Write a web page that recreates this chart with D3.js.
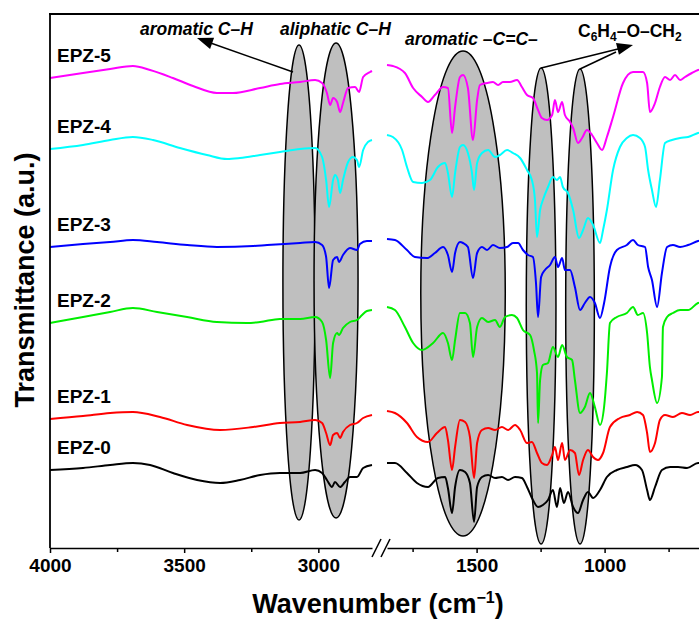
<!DOCTYPE html>
<html>
<head>
<meta charset="utf-8">
<script src="https://cdn.jsdelivr.net/npm/d3@7"></script>
<style>
  html, body { margin: 0; padding: 0; background: #fff; overflow: hidden; }
  svg { display: block; font-family: "Liberation Sans", Arial, sans-serif; }
</style>
</head>
<body>
<svg id="chart" width="699" height="621"></svg>
<script>
// ---- data (wavenumber, transmittance a.u.) ----
var seriesNames = ["EPZ-0", "EPZ-1", "EPZ-2", "EPZ-3", "EPZ-4", "EPZ-5"]
var seriesColors = ["#000000", "#ff0000", "#00ee00", "#0000ff", "#00ffff", "#ff00ff"]

var epz0 = [[4000,78],[3877,80],[3776,83],[3691,85],[3627,83],[3542,75],[3452,68],[3366,65],[3292,68],[3217,73],[3143,75],[3068,75],[3012,78],[2986,75],[2968,68],[2949,61],[2938,66],[2919,61],[2901,66],[2882,71],[2856,71],[2833,80],[2800,83],
  [1850,85],[1819,85],[1772,75],[1733,65],[1690,61],[1651,70],[1623,71],[1612,60],[1596,35],[1584,61],[1565,78],[1545,76],[1526,65],[1510,26],[1498,61],[1479,71],[1455,73],[1428,70],[1401,71],[1377,68],[1350,71],[1323,70],[1303,61],[1280,48],[1260,41],[1241,43],[1221,48],[1202,58],[1186,41],[1174,60],[1159,45],[1143,56],[1123,41],[1104,35],[1084,48],[1065,56],[1045,50],[1018,58],[991,71],[952,78],[913,81],[881,83],[854,78],[834,58],[823,48],[803,61],[776,78],[744,81],[713,81],[678,80],[635,85],[620,85]]

var epz1 = [[4000,129],[3877,132],[3776,135],[3691,136],[3590,131],[3489,123],[3366,118],[3243,121],[3143,125],[3068,126],[3012,128],[2986,125],[2971,115],[2956,103],[2945,113],[2930,115],[2919,110],[2908,116],[2882,123],[2856,125],[2833,130],[2800,133],
  [1850,137],[1819,135],[1772,125],[1733,111],[1690,106],[1655,115],[1623,121],[1612,108],[1596,78],[1584,101],[1565,128],[1545,126],[1526,111],[1510,70],[1498,105],[1479,118],[1455,120],[1428,118],[1401,121],[1377,118],[1350,123],[1330,118],[1303,105],[1284,106],[1264,95],[1245,85],[1225,83],[1205,93],[1194,101],[1182,88],[1166,105],[1155,88],[1135,98],[1116,95],[1100,73],[1084,88],[1065,98],[1045,91],[1026,88],[1006,95],[979,121],[940,130],[901,133],[873,136],[850,133],[834,115],[823,96],[803,105],[784,128],[764,133],[733,131],[698,135],[666,133],[635,136],[620,136]]

var epz2 = [[4000,225],[3877,231],[3776,236],[3691,240],[3601,236],[3489,231],[3378,226],[3266,225],[3217,226],[3143,229],[3068,229],[3012,231],[2986,226],[2971,208],[2956,170],[2945,205],[2930,215],[2923,213],[2908,220],[2882,226],[2856,228],[2837,233],[2819,237],[2800,238],
  [1850,241],[1819,238],[1780,221],[1748,205],[1713,198],[1670,205],[1631,215],[1612,205],[1596,188],[1584,208],[1565,235],[1545,235],[1526,225],[1514,191],[1498,221],[1479,230],[1455,226],[1428,228],[1409,221],[1389,231],[1362,233],[1342,230],[1319,218],[1291,213],[1276,198],[1264,175],[1260,125],[1252,168],[1241,183],[1221,185],[1202,201],[1182,191],[1166,203],[1147,191],[1127,188],[1116,168],[1096,135],[1077,141],[1057,155],[1038,141],[1018,123],[1002,141],[991,175],[979,225],[952,231],[913,235],[889,241],[870,233],[850,235],[834,215],[823,181],[815,168],[795,145],[776,171],[772,221],[756,231],[733,235],[705,238],[674,238],[635,245],[620,246]]

var epz3 = [[4000,301],[3877,304],[3776,306],[3691,308],[3601,306],[3489,303],[3378,301],[3243,302],[3191,303],[3068,305],[3012,306],[2986,303],[2971,291],[2960,260],[2945,288],[2930,291],[2923,286],[2908,293],[2882,300],[2856,298],[2845,304],[2819,307],[2800,307],
  [1850,309],[1819,308],[1772,298],[1741,291],[1694,290],[1663,295],[1631,301],[1612,293],[1596,276],[1584,295],[1565,306],[1553,305],[1534,301],[1514,270],[1498,295],[1479,301],[1459,298],[1436,303],[1409,300],[1381,301],[1358,305],[1338,305],[1319,298],[1299,293],[1280,291],[1268,265],[1260,231],[1248,271],[1233,278],[1213,283],[1194,291],[1182,281],[1166,290],[1155,278],[1135,278],[1116,261],[1096,238],[1077,245],[1057,251],[1038,245],[1018,230],[1002,245],[979,281],[952,298],[913,303],[889,308],[870,303],[842,301],[830,281],[815,268],[795,241],[776,275],[756,301],[733,303],[705,301],[674,303],[635,307],[620,308]]

var epz4 = [[4000,399],[3877,403],[3776,408],[3691,411],[3616,408],[3516,400],[3415,393],[3340,389],[3292,390],[3217,393],[3143,396],[3068,399],[3012,400],[2986,391],[2971,368],[2960,341],[2945,368],[2938,373],[2927,368],[2919,355],[2908,368],[2889,386],[2871,391],[2856,388],[2848,381],[2833,398],[2815,406],[2800,408],
  [1850,413],[1827,411],[1791,398],[1772,381],[1748,366],[1713,365],[1682,368],[1651,381],[1623,385],[1612,375],[1596,351],[1584,375],[1565,401],[1553,403],[1534,395],[1518,375],[1510,358],[1498,385],[1479,395],[1455,398],[1428,391],[1409,393],[1381,398],[1358,395],[1330,390],[1303,378],[1284,368],[1272,348],[1264,311],[1252,338],[1241,348],[1221,361],[1202,371],[1186,368],[1174,371],[1163,361],[1143,355],[1123,338],[1100,310],[1084,318],[1065,330],[1045,323],[1018,305],[1006,318],[991,338],[967,378],[940,401],[913,410],[889,413],[862,410],[842,401],[830,378],[815,358],[799,341],[784,368],[764,405],[737,408],[705,410],[674,411],[635,415],[620,416]]

var epz5 = [[4000,470],[3877,475],[3776,479],[3691,482],[3627,478],[3542,470],[3467,462],[3378,455],[3318,455],[3217,460],[3143,464],[3068,466],[3012,468],[2986,465],[2968,455],[2956,443],[2945,450],[2930,446],[2919,436],[2908,445],[2889,460],[2863,461],[2848,456],[2833,471],[2807,476],[2800,477],
  [1850,483],[1827,482],[1780,475],[1748,460],[1713,451],[1690,446],[1663,453],[1631,461],[1612,460],[1596,415],[1584,441],[1565,471],[1553,473],[1534,460],[1514,408],[1498,448],[1487,463],[1459,465],[1436,466],[1416,463],[1397,466],[1370,466],[1342,468],[1323,461],[1303,453],[1280,450],[1260,438],[1245,430],[1225,428],[1205,433],[1194,448],[1182,436],[1166,446],[1155,433],[1135,426],[1123,420],[1104,405],[1088,410],[1069,418],[1049,413],[1030,405],[1010,398],[991,411],[967,431],[928,465],[889,476],[850,476],[834,465],[823,436],[803,445],[784,461],[764,471],[744,468],[725,473],[705,468],[686,471],[659,475],[635,478],[620,479]]

var seriesData = [epz0, epz1, epz2, epz3, epz4, epz5]

// axis ticks
var leftMajor = [4000, 3500, 3000], leftMinor = [3750, 3250]
var rightMajor = [1500, 1000], rightMinor = [1750, 1250, 750]

// shaded bands (centre wavenumber, half width in cm-1)
var bandsLeft = [[3072, 60], [2934, 82]]
var bandsRight = [[1553, 165], [1248, 58], [1096, 56]]

// ---- layout ----
var svg = d3.select("#chart")
var plotTop = 14, plotBottom = 548

var xL = d3.scaleLinear().domain([4000, 2800]).range([50, 372])
var xR = d3.scaleLinear().domain([1850, 600]).range([387, 707])
var y = d3.scaleLinear().domain([0, 534]).range([plotBottom, plotTop])

// ellipses first, traces on top
var bandTops = [45, 43, 51, 68, 69], bandBottoms = [520, 518, 536, 544, 544]
var bands = bandsLeft.map(function(b){ return {cx: xL(b[0]), rx: xL(b[0] - b[1]) - xL(b[0])} })
    .concat(bandsRight.map(function(b){ return {cx: xR(b[0]), rx: xR(b[0] - b[1]) - xR(b[0])} }))
bands.forEach(function(d, i){ d.cy = (bandTops[i] + bandBottoms[i]) / 2; d.ry = (bandBottoms[i] - bandTops[i]) / 2 })

svg.append("g").selectAll("ellipse")
    .data(bands)
    .enter().append("ellipse")
    .attr("cx", function(d){ return d.cx })
    .attr("cy", function(d){ return d.cy })
    .attr("rx", function(d){ return d.rx })
    .attr("ry", function(d){ return d.ry })
    .attr("fill", "#bfbfbf")
    .attr("stroke", "#000")
    .attr("stroke-width", 1.5)

// traces
var lineL = d3.line().x(function(d){ return xL(d[0]) }).y(function(d){ return y(d[1]) }).curve(d3.curveMonotoneX)
var lineR = d3.line().x(function(d){ return xR(d[0]) }).y(function(d){ return y(d[1]) }).curve(d3.curveMonotoneX)

var traces = svg.append("g").attr("class", "traces")
seriesData.forEach(function(s, i){
    traces.append("path")
        .attr("d", lineL(s.filter(function(d){ return d[0] >= 2800 })))
        .attr("fill", "none").attr("stroke", seriesColors[i]).attr("stroke-width", 2)
    traces.append("path")
        .attr("d", lineR(s.filter(function(d){ return d[0] <= 1850 })))
        .attr("fill", "none").attr("stroke", seriesColors[i]).attr("stroke-width", 2)
    svg.append("text")
        .attr("x", 57)
        .attr("y", y(s[0][1]) - 16)
        .attr("font-size", 19)
        .attr("font-weight", "bold")
        .attr("fill", "#000")
        .text(seriesNames[i])
})

// axes
function drawAxis(scale, major, minor){
    var g = svg.append("g").attr("transform", "translate(0," + plotBottom + ")")
    g.call(d3.axisBottom(scale).tickValues(major).tickSize(5).tickSizeOuter(0).tickPadding(6).tickFormat(d3.format("d")))
    g.append("g").call(d3.axisBottom(scale).tickValues(minor).tickSize(4).tickSizeOuter(0).tickFormat(""))
        .select(".domain").remove()
    g.selectAll("path, line").attr("stroke", "#000").attr("stroke-width", 1.5)
    g.selectAll("text")
        .attr("font-size", 19)
        .attr("font-weight", "bold")
        .attr("fill", "#000")
        .attr("font-family", "Liberation Sans, Arial, sans-serif")
}
drawAxis(xL, leftMajor, leftMinor)
drawAxis(xR, rightMajor, rightMinor)

// axis break marks
var bx = xL.range()[1]
svg.append("g").selectAll("line")
    .data([0, 9])
    .enter().append("line")
    .attr("x1", function(d){ return bx + d }).attr("y1", plotBottom + 9)
    .attr("x2", function(d){ return bx + d + 9 }).attr("y2", plotBottom - 9)
    .attr("stroke", "#000").attr("stroke-width", 1.5)

// frame: left axis and top line
svg.append("line").attr("x1", 50).attr("y1", plotTop).attr("x2", 50).attr("y2", plotBottom)
    .attr("stroke", "#000").attr("stroke-width", 1.8)
svg.append("line").attr("x1", 49).attr("y1", plotTop).attr("x2", 699).attr("y2", plotTop)
    .attr("stroke", "#000").attr("stroke-width", 1.8)

// axis titles
svg.append("text")
    .attr("x", 378).attr("y", 613)
    .attr("text-anchor", "middle")
    .attr("font-size", 27).attr("font-weight", "bold")
    .html('Wavenumber (cm<tspan dy="-10" font-size="16">\u22121</tspan><tspan dy="10">)</tspan>')

svg.append("text")
    .attr("transform", "translate(34,280) rotate(-90)")
    .attr("text-anchor", "middle")
    .attr("font-size", 27).attr("font-weight", "bold")
    .text("Transmittance (a.u.)")

// annotations
function arrowHead(x1, y1, x2, y2){
    var a = Math.atan2(y2 - y1, x2 - x1), L = 16, W = 6
    var bxh = x2 - L * Math.cos(a), byh = y2 - L * Math.sin(a)
    var px = -Math.sin(a) * W, py = Math.cos(a) * W
    svg.append("path")
        .attr("d", "M" + x2 + "," + y2 + "L" + (bxh + px) + "," + (byh + py) + "L" + (bxh - px) + "," + (byh - py) + "Z")
        .attr("fill", "#000")
}
function arrowLine(x1, y1, x2, y2){
    svg.append("line").attr("x1", x1).attr("y1", y1).attr("x2", x2).attr("y2", y2)
        .attr("stroke", "#000").attr("stroke-width", 1.5)
}

arrowLine(bands[0].cx - 6, 72, 205, 41)
arrowHead(293, 72, 197, 38)

arrowLine(bands[3].cx, bandTops[3], 622, 48)
arrowHead(bands[3].cx, bandTops[3], 633, 45)
arrowLine(bands[4].cx, bandTops[4], 616, 52)

var ann = svg.append("g").attr("font-size", 17.5).attr("font-weight", "bold").attr("fill", "#000")
ann.append("text").attr("x", 140).attr("y", 35).attr("font-style", "italic").text("aromatic C\u2013H")
ann.append("text").attr("x", 280).attr("y", 35).attr("font-style", "italic").text("aliphatic C\u2013H")
ann.append("text").attr("x", 405).attr("y", 45)
    .html('<tspan font-style="italic">aromatic \u2013C=C\u2013</tspan>')
ann.append("text").attr("x", 578).attr("y", 37)
    .html('C<tspan dy="4" font-size="12">6</tspan><tspan dy="-4">H</tspan><tspan dy="4" font-size="12">4</tspan><tspan dy="-4">\u2013O\u2013CH</tspan><tspan dy="4" font-size="12">2</tspan>')
</script>
</body>
</html>
